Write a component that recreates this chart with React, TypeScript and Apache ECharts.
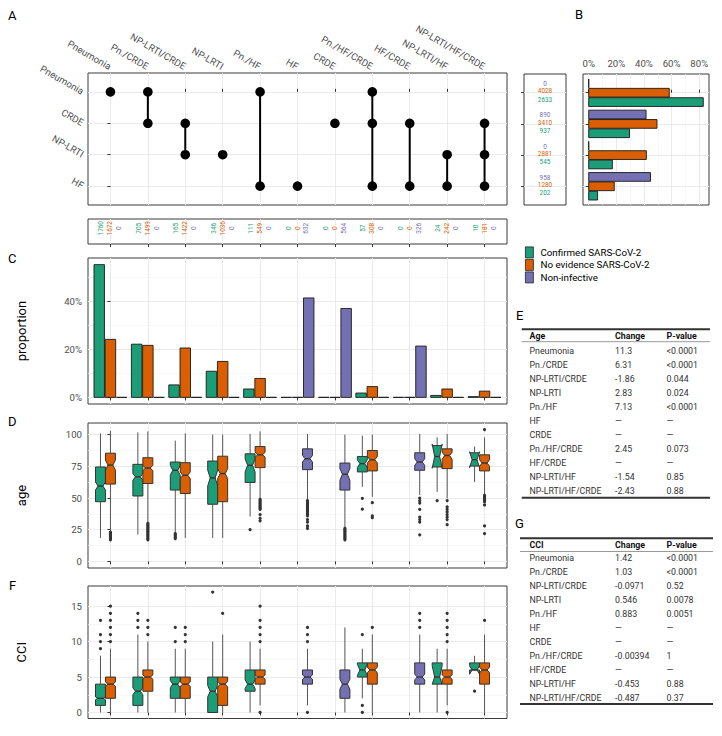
import React, { useEffect, useRef } from 'react';
import * as echarts from 'echarts';

const FONT = 'Roboto, "Noto Sans", "DejaVu Sans", sans-serif';

// ---------- data ----------
const combinations = ['Pneumonia', 'Pn./CRDE', 'NP-LRTI/CRDE', 'NP-LRTI', 'Pn./HF', 'HF', 'CRDE', 'Pn./HF/CRDE', 'HF/CRDE', 'NP-LRTI/HF', 'NP-LRTI/HF/CRDE'];
const conditions = ['Pneumonia', 'CRDE', 'NP-LRTI', 'HF'];
// indices into conditions
const combinationMembers = [[0], [0, 1], [1, 2], [2], [0, 3], [3], [1], [0, 1, 3], [1, 3], [2, 3], [1, 2, 3]];
const groups = ['Confirmed SARS-CoV-2', 'No evidence SARS-CoV-2', 'Non-infective'];
const groupColors = ['#1B9E77', '#D95F02', '#7570B3'];

const countConfirmed = [1760, 705, 165, 346, 111, 0, 0, 57, 0, 24, 10];
const countNoEvidence = [1672, 1499, 1422, 1036, 549, 0, 0, 308, 0, 242, 181];
const countNonInfective = [0, 0, 0, 0, 0, 632, 564, 0, 326, 0, 0];

const propConfirmed = [55.4, 22.2, 5.2, 10.9, 3.5, 0, 0, 1.8, 0, 0.8, 0.3];
const propNoEvidence = [24.2, 21.7, 20.6, 15.0, 7.9, 0, 0, 4.5, 0, 3.5, 2.6];
const propNonInfective = [0, 0, 0, 0, 0, 41.5, 37.1, 0, 21.4, 0, 0];

const condCountConfirmed = [2633, 937, 545, 202];
const condCountNoEvidence = [4028, 3410, 2881, 1280];
const condCountNonInfective = [0, 890, 0, 958];
const condPctConfirmed = [82.9, 29.5, 17.1, 6.4];
const condPctNoEvidence = [58.3, 49.4, 41.7, 18.5];
const condPctNonInfective = [0, 41.5, 0, 44.7];

const propTicks = [0, 20, 40];
const propMinor = [10, 30, 50];
const ageTicks = [0, 25, 50, 75, 100];
const ageMinor = [12.5, 37.5, 62.5, 87.5];
const cciTicks = [0, 5, 10, 15];
const cciMinor = [2.5, 7.5, 12.5];
const pctTicks = [0, 20, 40, 60, 80];
const pctMinor = [10, 30, 50, 70];

// [combination, group, whiskerLow, q1, notchLow, median, notchHigh, q3, whiskerHigh]
const ageBoxes = [
  [0, 0, 18.5, 47.1, 56.3, 59.4, 62.7, 74.5, 101],
  [0, 1, 23.7, 61, 72, 76, 80, 85.4, 103],
  [1, 0, 21.1, 51.6, 64, 66.7, 69.3, 76.6, 101.8],
  [1, 1, 30.2, 61.5, 71.4, 73.7, 75.8, 81.8, 102.6],
  [2, 0, 22.4, 56.3, 68, 71.9, 75.8, 78.4, 95.3],
  [2, 1, 18.5, 53.6, 65.4, 68, 70.6, 77.9, 101],
  [3, 0, 18.5, 45.1, 59.5, 65.9, 72, 79.2, 100],
  [3, 1, 18.5, 47.1, 65.4, 69.3, 73.2, 83, 100],
  [4, 0, 35.4, 62.3, 70.6, 75.8, 81, 84.9, 100.5],
  [4, 1, 49.8, 74, 82.3, 84.1, 86.2, 90.6, 102.6],
  [5, 2, 48.4, 72.4, 78.4, 81, 83.6, 88.8, 100.5],
  [6, 2, 26.3, 56.3, 64, 68.8, 73.2, 77.6, 100],
  [7, 0, 58.8, 70.6, 74, 77.1, 80.2, 82.8, 99.2],
  [7, 1, 51, 71.4, 77.6, 80.2, 82.8, 87.5, 100],
  [8, 2, 52.3, 71.9, 75.8, 78.4, 81, 85.7, 100.5],
  [9, 0, 54.9, 74.5, 73.5, 82.8, 92.5, 91.4, 97.9],
  [9, 1, 49.8, 73.2, 80.5, 83.6, 86.2, 88.8, 100.5],
  [10, 0, 62.7, 75.2, 74, 80.2, 86.5, 85.7, 90.6],
  [10, 1, 53, 71.4, 75, 77.6, 80.2, 84.1, 97.9],
];
// [combination, group, outlier values]
const ageOutliers: [number, number, number[]][] = [
  [0, 1, [17, 18, 19, 20, 21, 22, 23]],
  [1, 1, [17, 18, 19, 20, 21, 22, 23, 24, 25, 26, 27, 28, 29, 30]],
  [2, 0, [18, 19, 20, 21, 22]],
  [4, 0, [25]],
  [4, 1, [49, 48, 47, 46, 45, 44, 43, 42, 41, 37, 34, 32]],
  [5, 2, [48, 47, 46, 45, 44, 43, 42, 41, 40, 39, 38, 37, 36, 33, 31, 28, 26]],
  [6, 2, [17, 18, 19, 20, 21, 22, 23, 24, 25, 26]],
  [7, 0, [49.8, 41.2]],
  [7, 1, [46.3, 36, 34.5]],
  [8, 2, [50, 48, 46, 41, 35, 33, 31, 21]],
  [9, 0, [47.9]],
  [9, 1, [48, 43, 41, 39, 37, 35, 33, 29]],
  [10, 1, [104, 52, 51, 50, 49, 48, 47, 44.5, 28, 22]],
];
const cciBoxes = [
  [0, 0, 0, 1, 1.8, 2, 2.2, 4, 8],
  [0, 1, 0, 2, 3.7, 4, 4.3, 5, 9],
  [1, 0, 0, 1, 2.5, 3, 3.5, 5, 11],
  [1, 1, 0, 3, 4.7, 5, 5.3, 6, 10],
  [2, 0, 0, 2, 3.5, 4, 4.5, 5, 9],
  [2, 1, 0, 2, 3.7, 4, 4.3, 5, 9],
  [3, 0, 0, 0, 2.2, 3, 3.8, 5, 10],
  [3, 1, 0, 1, 3.6, 4, 4.4, 5, 11],
  [4, 0, 0, 3, 3.4, 4, 4.6, 6, 10],
  [4, 1, 1, 4, 4.7, 5, 5.3, 6, 9],
  [5, 2, 1, 4, 4.7, 5, 5.3, 6, 9],
  [6, 2, 0, 2, 3.3, 4, 4.7, 6, 12],
  [7, 0, 2, 5, 5.2, 6, 6.8, 7, 9],
  [7, 1, 0, 4, 5.6, 6, 6.4, 7, 11],
  [8, 2, 0, 4, 4.6, 5, 5.4, 7, 11],
  [9, 0, 0, 4, 4, 5, 6.6, 7, 9],
  [9, 1, 1, 4, 4.7, 5, 5.3, 6, 9],
  [10, 0, 6, 6, 5.4, 6, 6.6, 7, 8],
  [10, 1, 0, 4, 5.6, 6, 6.4, 7, 11],
];
const cciOutliers: [number, number, number[]][] = [
  [0, 0, [9, 10, 11, 13]],
  [0, 1, [10, 11, 12, 13, 14, 15]],
  [1, 0, [12, 13, 14]],
  [1, 1, [11, 12, 13]],
  [2, 0, [10, 12]],
  [2, 1, [10, 11, 12]],
  [3, 0, [17]],
  [3, 1, [14]],
  [4, 1, [0, 10, 11, 12, 13, 15]],
  [5, 2, [0, 10, 11, 12]],
  [7, 0, [0, 1, 11]],
  [7, 1, [12]],
  [8, 2, [12, 13, 14]],
  [9, 1, [0, 10, 11, 12, 13, 14]],
  [10, 0, [3]],
  [10, 1, [13]],
];

const tableHeaderAge = ['Age', 'Change', 'P-value'];
const ageChange = ['11.3', '6.31', '-1.86', '2.83', '7.13', '—', '—', '2.45', '—', '-1.54', '-2.43'];
const agePValue = ['<0.0001', '<0.0001', '0.044', '0.024', '<0.0001', '—', '—', '0.073', '—', '0.85', '0.88'];
const tableHeaderCci = ['CCI', 'Change', 'P-value'];
const cciChange = ['1.42', '1.03', '-0.0971', '0.546', '0.883', '—', '—', '-0.00394', '—', '-0.453', '-0.487'];
const cciPValue = ['<0.0001', '<0.0001', '0.52', '0.0078', '0.0051', '—', '—', '1', '—', '0.88', '0.37'];

// ---------- helpers ----------
const catIdx = combinations.map((_, i) => i);
const rowIdx = conditions.map((_, i) => i);
const AXIS_TEXT = { fontSize: 9.6, color: '#4D4D4D', fontFamily: FONT };
const MAJOR = { show: true, lineStyle: { color: '#EBEBEB', width: 1 } };
const MINOR = { show: true, lineStyle: { color: '#F3F3F3', width: 0.7 } };
const TICK = (vals: number[]) => ({ show: true, customValues: vals, length: 3, lineStyle: { color: '#333', width: 1 } });
const BORDER = { show: true, borderColor: '#3a3a3a', borderWidth: 1, backgroundColor: '#fff' };

const catXAxis = (gridIndex: number, position: string, labels: boolean) => ({
  type: 'value', gridIndex, position, min: -0.6, max: 10.6,
  axisLine: { show: false },
  axisTick: TICK(catIdx),
  axisLabel: labels
    ? { show: true, customValues: catIdx, formatter: (v: number) => combinations[Math.round(v)], rotate: -30, align: 'right', verticalAlign: 'middle', margin: 6, ...AXIS_TEXT }
    : { show: false },
  splitLine: MAJOR,
});
const valAxis = (gridIndex: number, min: number, max: number, ticks: number[], fmt: (v: number) => string, name?: string) => ({
  type: 'value', gridIndex, min, max,
  axisLine: { show: false },
  axisTick: TICK(ticks),
  axisLabel: { show: true, customValues: ticks, formatter: fmt, margin: 6, ...AXIS_TEXT },
  splitLine: MAJOR,
  name, nameLocation: 'middle', nameGap: 60, nameRotate: 90,
  nameTextStyle: { fontSize: 13, color: '#000', fontFamily: FONT },
});
const minorAxis = (gridIndex: number, min: number, max: number, ticks: number[]) => ({
  type: 'value', gridIndex, min, max,
  axisLine: { show: false }, axisTick: { show: false, customValues: ticks }, axisLabel: { show: false },
  splitLine: MINOR,
});

const GROUP_OFF_BAR = [-0.3, 0, 0.3];
const BAR_HALF = 0.14;
const BOX_OFF = [-0.267, 0, 0.267];
const BOX_HALF = 0.133;

const renderBox = (params: any, api: any) => {
  const c = api.value(0), g = api.value(1);
  const wl = api.value(2), q1 = api.value(3), nl = api.value(4), md = api.value(5), nh = api.value(6), q3 = api.value(7), wh = api.value(8);
  const cx = c + BOX_OFF[g];
  const xl = api.coord([cx - BOX_HALF, 0])[0];
  const xr = api.coord([cx + BOX_HALF, 0])[0];
  const xm = (xl + xr) / 2;
  const Y = (v: number) => api.coord([cx, v])[1];
  const ind = (xr - xl) / 4;
  return {
    type: 'group', children: [
      { type: 'line', shape: { x1: xm, y1: Y(wh), x2: xm, y2: Y(q3) }, style: { stroke: '#555', lineWidth: 1 } },
      { type: 'line', shape: { x1: xm, y1: Y(q1), x2: xm, y2: Y(wl) }, style: { stroke: '#555', lineWidth: 1 } },
      {
        type: 'polygon',
        shape: { points: [[xl, Y(q3)], [xl, Y(nh)], [xl + ind, Y(md)], [xl, Y(nl)], [xl, Y(q1)], [xr, Y(q1)], [xr, Y(nl)], [xr - ind, Y(md)], [xr, Y(nh)], [xr, Y(q3)]] },
        style: { fill: groupColors[g], stroke: '#333', lineWidth: 1 },
      },
      { type: 'line', shape: { x1: xl + ind, y1: Y(md), x2: xr - ind, y2: Y(md) }, style: { stroke: '#333', lineWidth: 1.4 } },
    ],
  };
};
const renderOutlier = (params: any, api: any) => {
  const p = api.coord([api.value(0) + BOX_OFF[api.value(1)], api.value(2)]);
  return { type: 'circle', shape: { cx: p[0], cy: p[1], r: 1.6 }, style: { fill: '#333' } };
};
const flattenOutliers = (list: [number, number, number[]][]) => {
  const out: number[][] = [];
  list.forEach(([c, g, vals]) => vals.forEach((v) => out.push([c, g, v])));
  return out;
};

const countsByGroup = [countConfirmed, countNoEvidence, countNonInfective];
const propByGroup = [propConfirmed, propNoEvidence, propNonInfective];
const condCountsByGroup = [condCountConfirmed, condCountNoEvidence, condCountNonInfective];
const condPctByGroup = [condPctConfirmed, condPctNoEvidence, condPctNonInfective];

const COUNT_OFF = [-0.24, 0, 0.24];
const COND_COUNT_OFF = [0.23, -0.045, -0.275];
const COND_BAR_OFF = [0.3, 0, -0.3];

function tableEls(t: { top: number; header: number; hline: number; row0: number; step: number; bottom: number; x1: number; x2: number }, head: string[], changes: string[], pvals: string[]) {
  const cols = [529.5, 615, 666.5];
  const els: any[] = [];
  const txt = (x: number, y: number, s: string, bold: boolean) => ({
    type: 'text', x, y, z: 10,
    style: { text: s, fill: bold ? '#111111' : '#333333', fontSize: 8.8, fontWeight: bold ? 'bold' : 'normal', fontFamily: FONT, align: 'left', verticalAlign: 'middle' },
  });
  els.push({ type: 'line', shape: { x1: t.x1, y1: t.top, x2: t.x2, y2: t.top }, style: { stroke: '#333', lineWidth: 2 } });
  head.forEach((h, j) => els.push(txt(cols[j], t.header, h, true)));
  els.push({ type: 'line', shape: { x1: t.x1, y1: t.hline, x2: t.x2, y2: t.hline }, style: { stroke: '#999', lineWidth: 1 } });
  combinations.forEach((name, i) => {
    const y = t.row0 + t.step * i;
    els.push(txt(cols[0], y, name, false));
    els.push(txt(cols[1], y, changes[i], false));
    els.push(txt(cols[2], y, pvals[i], false));
  });
  els.push({ type: 'line', shape: { x1: t.x1, y1: t.bottom, x2: t.x2, y2: t.bottom }, style: { stroke: '#333', lineWidth: 2 } });
  return els;
}

const letter = (s: string, x: number, y: number) => ({
  type: 'text', x, y,
  style: { text: s, fill: '#000', fontSize: 13, fontFamily: FONT, align: 'left', verticalAlign: 'middle' },
});

export default function App() {
  const ref = useRef<HTMLDivElement>(null);
  useEffect(() => {
    if (!ref.current) return;
    const chart = echarts.init(ref.current, undefined, { renderer: 'svg' });

    const matrixLines = combinationMembers.filter((m) => m.length > 1).map((m) => [combinationMembers.indexOf(m), Math.min(...m), Math.max(...m)]);
    const matrixDots: number[][] = [];
    combinationMembers.forEach((m, i) => m.forEach((r) => matrixDots.push([i, r])));

    const countData: number[][] = [];
    countsByGroup.forEach((arr, g) => arr.forEach((v, i) => countData.push([i, g, v])));
    const condCountData: number[][] = [];
    condCountsByGroup.forEach((arr, g) => arr.forEach((v, i) => condCountData.push([i, g, v])));
    const condBarData: number[][] = [];
    condPctByGroup.forEach((arr, g) => arr.forEach((v, i) => condBarData.push([i, g, v])));

    const option: any = {
      animation: false,
      backgroundColor: '#fff',
      textStyle: { fontFamily: FONT },
      grid: [
        { left: 88, top: 73, width: 419, height: 132, ...BORDER },   // 0 A matrix
        { left: 88, top: 219, width: 419, height: 25, ...BORDER },   // 1 counts strip
        { left: 88, top: 258, width: 419, height: 146, ...BORDER },  // 2 C
        { left: 88, top: 423, width: 419, height: 145, ...BORDER },  // 3 D
        { left: 88, top: 586, width: 419, height: 132.5, ...BORDER },// 4 F
        { left: 524, top: 74, width: 42, height: 131, ...BORDER },   // 5 B counts
        { left: 583, top: 74, width: 126, height: 131, ...BORDER },  // 6 B bars
      ],
      xAxis: [
        catXAxis(0, 'top', true),
        catXAxis(1, 'bottom', false),
        catXAxis(2, 'bottom', false),
        catXAxis(3, 'bottom', false),
        catXAxis(4, 'bottom', false),
        { type: 'value', gridIndex: 5, min: 0, max: 1, show: false },
        { ...valAxis(6, -4.14, 87.04, pctTicks, (v: number) => `${v}%`), position: 'top', name: undefined },
        minorAxis(6, -4.14, 87.04, pctMinor),
      ],
      yAxis: [
        {
          type: 'value', gridIndex: 0, min: -0.6, max: 3.6, inverse: true,
          axisLine: { show: false }, axisTick: TICK(rowIdx),
          axisLabel: { show: true, customValues: rowIdx, formatter: (v: number) => conditions[Math.round(v)], rotate: -30, align: 'right', verticalAlign: 'middle', margin: 5, ...AXIS_TEXT },
          splitLine: MAJOR,
        },
        { type: 'value', gridIndex: 1, min: 0, max: 1, show: false },
        valAxis(2, -2.77, 58.17, propTicks, (v: number) => `${v}%`, 'proportion'),
        minorAxis(2, -2.77, 58.17, propMinor),
        valAxis(3, -5.2, 109.2, ageTicks, (v: number) => `${v}`, 'age'),
        minorAxis(3, -5.2, 109.2, ageMinor),
        valAxis(4, -0.85, 17.85, cciTicks, (v: number) => `${v}`, 'CCI'),
        minorAxis(4, -0.85, 17.85, cciMinor),
        {
          type: 'value', gridIndex: 5, min: -0.6, max: 3.6, inverse: true,
          axisLine: { show: false }, axisTick: TICK(rowIdx), axisLabel: { show: false }, splitLine: MAJOR,
        },
        {
          type: 'value', gridIndex: 6, min: -0.6, max: 3.6, inverse: true,
          axisLine: { show: false }, axisTick: TICK(rowIdx), axisLabel: { show: false }, splitLine: MAJOR,
        },
      ],
      legend: {
        data: groups, orient: 'vertical', left: 525, top: 246.5, padding: 0,
        itemWidth: 8, itemHeight: 11, itemGap: 0.7, icon: 'rect', selectedMode: false,
        itemStyle: { borderColor: '#222', borderWidth: 0.8 },
        textStyle: { fontSize: 9.8, color: '#000', fontFamily: FONT, padding: [0, 0, 0, 2] },
      },
      series: [
        {
          type: 'custom', name: 'matrix-lines', xAxisIndex: 0, yAxisIndex: 0, data: matrixLines,
          renderItem: (p: any, api: any) => {
            const a = api.coord([api.value(0), api.value(1)]);
            const b = api.coord([api.value(0), api.value(2)]);
            return { type: 'line', shape: { x1: a[0], y1: a[1], x2: b[0], y2: b[1] }, style: { stroke: '#000', lineWidth: 2 } };
          },
        },
        {
          type: 'custom', name: 'matrix-dots', xAxisIndex: 0, yAxisIndex: 0, data: matrixDots,
          renderItem: (p: any, api: any) => {
            const a = api.coord([api.value(0), api.value(1)]);
            return { type: 'circle', shape: { cx: a[0], cy: a[1], r: 4.8 }, style: { fill: '#000' } };
          },
        },
        {
          type: 'custom', name: 'counts', xAxisIndex: 1, yAxisIndex: 1, data: countData,
          renderItem: (p: any, api: any) => {
            const g = api.value(1);
            const a = api.coord([api.value(0) + COUNT_OFF[g], 0.63]);
            return {
              type: 'text', x: a[0], y: a[1], rotation: Math.PI / 2,
              style: { text: String(api.value(2)), fill: groupColors[g], fontSize: 6.4, fontFamily: FONT, align: 'center', verticalAlign: 'middle' },
            };
          },
        },
        ...groups.map((name, g) => ({
          type: 'custom', name, xAxisIndex: 2, yAxisIndex: 2,
          itemStyle: { color: groupColors[g], borderColor: '#222', borderWidth: 0.8 },
          data: propByGroup[g].map((v, i) => [i, v]),
          renderItem: (p: any, api: any) => {
            const cx = api.value(0) + GROUP_OFF_BAR[g];
            const a = api.coord([cx - BAR_HALF, api.value(1)]);
            const b = api.coord([cx + BAR_HALF, 0]);
            return { type: 'rect', shape: { x: a[0], y: a[1], width: b[0] - a[0], height: b[1] - a[1] }, style: { fill: groupColors[g], stroke: '#1a1a1a', lineWidth: 0.9 } };
          },
        })),
        { type: 'custom', name: 'age-box', xAxisIndex: 3, yAxisIndex: 4, data: ageBoxes, renderItem: renderBox },
        { type: 'custom', name: 'age-out', xAxisIndex: 3, yAxisIndex: 4, data: flattenOutliers(ageOutliers), renderItem: renderOutlier },
        { type: 'custom', name: 'cci-box', xAxisIndex: 4, yAxisIndex: 6, data: cciBoxes, renderItem: renderBox },
        { type: 'custom', name: 'cci-out', xAxisIndex: 4, yAxisIndex: 6, data: flattenOutliers(cciOutliers), renderItem: renderOutlier },
        {
          type: 'custom', name: 'cond-counts', xAxisIndex: 5, yAxisIndex: 8, data: condCountData,
          renderItem: (p: any, api: any) => {
            const g = api.value(1);
            const a = api.coord([0.5, api.value(0) + COND_COUNT_OFF[g]]);
            return {
              type: 'text', x: a[0], y: a[1],
              style: { text: String(api.value(2)), fill: groupColors[g], fontSize: 6.4, fontFamily: FONT, align: 'center', verticalAlign: 'middle' },
            };
          },
        },
        {
          type: 'custom', name: 'cond-bars', xAxisIndex: 6, yAxisIndex: 9, data: condBarData,
          renderItem: (p: any, api: any) => {
            const g = api.value(1);
            const cy = api.value(0) + COND_BAR_OFF[g];
            const a = api.coord([0, cy - BAR_HALF]);
            const b = api.coord([api.value(2), cy + BAR_HALF]);
            return { type: 'rect', shape: { x: a[0], y: a[1], width: b[0] - a[0], height: b[1] - a[1] }, style: { fill: groupColors[g], stroke: '#1a1a1a', lineWidth: 0.9 } };
          },
        },
      ],
      graphic: {
        elements: [
          letter('A', 8, 15),
          letter('B', 575, 14),
          letter('C', 8, 258),
          letter('D', 8, 421),
          letter('E', 516, 315),
          letter('F', 9, 585),
          letter('G', 515, 523),
          ...tableEls({ top: 329.3, header: 335.9, hline: 341.7, row0: 350.7, step: 14, bottom: 497.7, x1: 521.7, x2: 710 }, tableHeaderAge, ageChange, agePValue),
          ...tableEls({ top: 538.3, header: 544.5, hline: 551.5, row0: 557.8, step: 14.05, bottom: 704, x1: 520, x2: 713 }, tableHeaderCci, cciChange, cciPValue),
        ],
      },
    };
    chart.setOption(option);
    return () => chart.dispose();
  }, []);
  return <div ref={ref} style={{ position: 'fixed', left: 0, top: 0, width: 722, height: 736, opacity: 0.999 }} />;
}
